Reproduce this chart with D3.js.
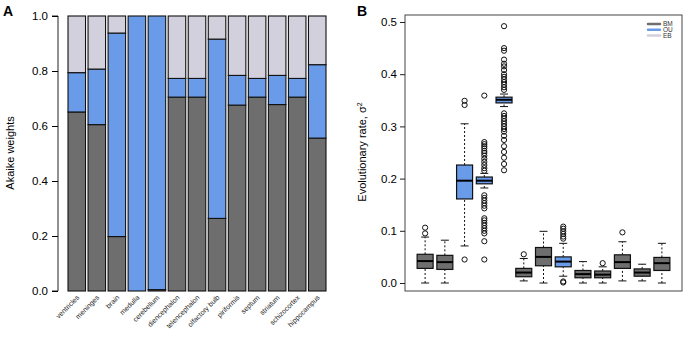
<!DOCTYPE html>
<html>
<head>
<meta charset="utf-8">
<script src="https://cdn.jsdelivr.net/npm/d3@7"></script>
<style>
  body { margin: 0; background: #fff; }
  text { font-family: "Liberation Sans", Arial, sans-serif; }
</style>
</head>
<body>
<div id="chart"></div>
<script>
// panel A - model weights per region
const regions = ['ventricles', 'meninges', 'brain', 'medulla', 'cerebellum', 'diencephalon',
    'telencephalon', 'olfactory bulb', 'piriformis', 'septum', 'striatum', 'schizocortex', 'hippocampus'];
const bmWeights = [0.651, 0.605, 0.198, 0.0, 0.005, 0.705, 0.705, 0.264, 0.676, 0.705, 0.678, 0.705, 0.556];
const ouWeights = [0.143, 0.202, 0.740, 1.0, 0.995, 0.068, 0.068, 0.652, 0.108, 0.068, 0.106, 0.068, 0.267];
const ebWeights = [0.206, 0.193, 0.062, 0.0, 0.0, 0.227, 0.227, 0.084, 0.216, 0.227, 0.216, 0.227, 0.177];
const weightTicks = [0, 0.2, 0.4, 0.6, 0.8, 1.0];

// panel B - evolutionary rate boxplots
const boxFit = ['BM', 'BM', 'OU', 'OU', 'OU', 'BM', 'BM', 'OU', 'BM', 'BM', 'BM', 'BM', 'BM'];
const boxLow = [0.0, 0.0, 0.071, 0.182, 0.338, 0.004, 0.0, 0.013, 0.0, 0.0, 0.004, 0.004, 0.0];
const boxQ1 = [0.028, 0.026, 0.161, 0.190, 0.345, 0.012, 0.033, 0.031, 0.010, 0.010, 0.028, 0.013, 0.024];
const boxMed = [0.042, 0.040, 0.196, 0.196, 0.351, 0.020, 0.050, 0.041, 0.017, 0.016, 0.040, 0.020, 0.038];
const boxQ3 = [0.055, 0.053, 0.226, 0.203, 0.356, 0.028, 0.068, 0.050, 0.024, 0.023, 0.054, 0.027, 0.049];
const boxHigh = [0.088, 0.082, 0.305, 0.210, 0.362, 0.047, 0.099, 0.076, 0.041, 0.031, 0.079, 0.036, 0.076];
const boxOutliers = [
    [0.095, 0.106],
    [],
    [0.045, 0.341, 0.349],
    [0.045, 0.080, 0.095, 0.100, 0.105, 0.110, 0.115, 0.120, 0.124, 0.143, 0.148, 0.153, 0.158, 0.163, 0.168,
     0.215, 0.220, 0.226, 0.232, 0.238, 0.244, 0.249, 0.253, 0.258, 0.262, 0.266, 0.270, 0.359],
    [0.216, 0.228, 0.240, 0.251, 0.262, 0.274, 0.282, 0.290, 0.295, 0.300, 0.305, 0.310, 0.315, 0.320, 0.325,
     0.370, 0.375, 0.380, 0.385, 0.390, 0.395, 0.400, 0.408, 0.415, 0.420, 0.428, 0.445, 0.450, 0.492],
    [0.055],
    [],
    [0.001, 0.003, 0.085, 0.089, 0.094, 0.099, 0.104, 0.108],
    [],
    [0.038],
    [0.097],
    [],
    []
];
const rateTicks = [0, 0.1, 0.2, 0.3, 0.4, 0.5];
const legendModels = ['BM', 'OU', 'EB'];

const colors = { BM: '#6e6e6e', OU: '#6a9be9', EB: '#d2d0dd' };

const width = 686;
const height = 340;
const svg = d3.select('#chart').append('svg')
    .attr('width', width)
    .attr('height', height);

// ---------- panel A ----------
const xA = d3.scaleBand()
    .domain(regions)
    .range([66.75, 327.25])
    .paddingInner(0.125)
    .paddingOuter(0.0625);
const yA = d3.scaleLinear().domain([0, 1]).range([291, 16]);

const stackData = regions.map((r, i) => ({ region: r, BM: bmWeights[i], OU: ouWeights[i], EB: ebWeights[i] }));
const stack = d3.stack().keys(['BM', 'OU', 'EB'])(stackData);

const gA = svg.append('g');
stack.forEach(layer => {
    gA.selectAll(null)
        .data(layer.filter(d => d[1] - d[0] > 0))
        .enter()
        .append('rect')
        .attr('x', d => xA(d.data.region))
        .attr('y', d => yA(d[1]))
        .attr('width', xA.bandwidth())
        .attr('height', d => yA(d[0]) - yA(d[1]))
        .attr('fill', colors[layer.key])
        .attr('stroke', '#111')
        .attr('stroke-width', 1.1);
});

const axisA = gA.append('g')
    .attr('transform', 'translate(58,0)')
    .call(d3.axisLeft(yA).tickValues(weightTicks).tickFormat(d3.format('.1f')).tickSize(6).tickPadding(4));
axisA.select('.domain').attr('stroke', '#222').attr('d', `M-6,${yA(1)}H0V${yA(0)}H-6`);
axisA.selectAll('text').style('font-size', '11.5px').attr('fill', '#000');

gA.selectAll('.xlab')
    .data(regions)
    .enter()
    .append('text')
    .attr('class', 'xlab')
    .attr('transform', d => `translate(${xA(d) + xA.bandwidth() / 2 + 3},${298}) rotate(-45)`)
    .attr('text-anchor', 'end')
    .style('font-size', '7px')
    .attr('fill', '#222')
    .text(d => d);

svg.append('text')
    .attr('transform', 'translate(14,153) rotate(-90)')
    .attr('text-anchor', 'middle')
    .style('font-size', '11px')
    .text('Akaike weights');

svg.append('text')
    .attr('x', 3).attr('y', 16)
    .style('font-size', '14px')
    .style('font-weight', 'bold')
    .text('A');

// ---------- panel B ----------
const xB = d3.scaleLinear().domain([-0.02, 14.02]).range([405, 682]);
const yB = d3.scaleLinear().domain([0, 0.5]).range([283, 22]);
const boxW = 16;

const gB = svg.append('g');
gB.append('rect')
    .attr('x', 405).attr('y', 15)
    .attr('width', 277).attr('height', 276)
    .attr('fill', 'none')
    .attr('stroke', '#444')
    .attr('stroke-width', 1);

const axisB = gB.append('g')
    .attr('transform', 'translate(405,0)')
    .call(d3.axisLeft(yB).tickValues(rateTicks).tickFormat(d3.format('.1f')).tickSize(5).tickPadding(3));
axisB.select('.domain').remove();
axisB.selectAll('line').attr('stroke', '#222');
axisB.selectAll('text').style('font-size', '11.5px').attr('fill', '#000');

const boxes = gB.selectAll('.box')
    .data(boxFit.map((f, i) => ({ i, f })))
    .enter()
    .append('g')
    .attr('class', 'box');

// whiskers
boxes.append('line')
    .attr('x1', d => xB(d.i + 1)).attr('x2', d => xB(d.i + 1))
    .attr('y1', d => yB(boxLow[d.i])).attr('y2', d => yB(boxQ1[d.i]))
    .attr('stroke', '#111').attr('stroke-dasharray', '2,2');
boxes.append('line')
    .attr('x1', d => xB(d.i + 1)).attr('x2', d => xB(d.i + 1))
    .attr('y1', d => yB(boxQ3[d.i])).attr('y2', d => yB(boxHigh[d.i]))
    .attr('stroke', '#111').attr('stroke-dasharray', '2,2');
boxes.append('line')
    .attr('x1', d => xB(d.i + 1) - 4).attr('x2', d => xB(d.i + 1) + 4)
    .attr('y1', d => yB(boxLow[d.i])).attr('y2', d => yB(boxLow[d.i]))
    .attr('stroke', '#111');
boxes.append('line')
    .attr('x1', d => xB(d.i + 1) - 4).attr('x2', d => xB(d.i + 1) + 4)
    .attr('y1', d => yB(boxHigh[d.i])).attr('y2', d => yB(boxHigh[d.i]))
    .attr('stroke', '#111');

boxes.append('rect')
    .attr('x', d => xB(d.i + 1) - boxW / 2)
    .attr('y', d => yB(boxQ3[d.i]))
    .attr('width', boxW)
    .attr('height', d => yB(boxQ1[d.i]) - yB(boxQ3[d.i]))
    .attr('fill', d => colors[d.f])
    .attr('stroke', '#111')
    .attr('stroke-width', 1.2);
boxes.append('line')
    .attr('x1', d => xB(d.i + 1) - boxW / 2).attr('x2', d => xB(d.i + 1) + boxW / 2)
    .attr('y1', d => yB(boxMed[d.i])).attr('y2', d => yB(boxMed[d.i]))
    .attr('stroke', '#000').attr('stroke-width', 2);

boxes.each(function (d) {
    d3.select(this).selectAll('circle')
        .data(boxOutliers[d.i])
        .enter()
        .append('circle')
        .attr('cx', xB(d.i + 1))
        .attr('cy', v => yB(v))
        .attr('r', 2.6)
        .attr('fill', 'none')
        .attr('stroke', '#111')
        .attr('stroke-width', 1);
});

// legend
const legend = gB.selectAll('.leg')
    .data(legendModels)
    .enter()
    .append('g')
    .attr('class', 'leg')
    .attr('transform', (d, i) => `translate(648,${24 + i * 5.8})`);
legend.append('line')
    .attr('x1', 0).attr('x2', 12)
    .attr('stroke', d => colors[d])
    .attr('stroke-width', 2.5)
    .attr('stroke-linecap', 'round');
legend.append('text')
    .attr('x', 15).attr('y', 2.2)
    .style('font-size', '6.5px')
    .attr('fill', '#333')
    .text(d => d);

svg.append('text')
    .attr('transform', 'translate(366,152) rotate(-90)')
    .attr('text-anchor', 'middle')
    .style('font-size', '11px')
    .html('Evolutionary rate, σ<tspan dy="-4" font-size="7px">2</tspan>');

svg.append('text')
    .attr('x', 357).attr('y', 16)
    .style('font-size', '14px')
    .style('font-weight', 'bold')
    .text('B');
</script>
</body>
</html>
